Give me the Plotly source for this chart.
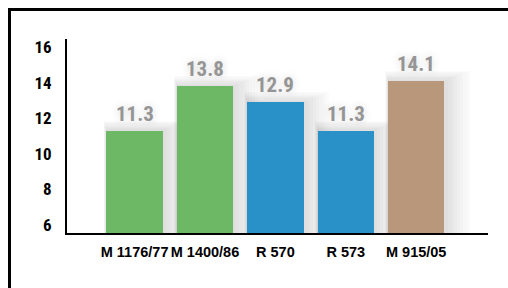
import plotly.graph_objects as go

categories = ["M 1176/77", "M 1400/86", "R 570", "R 573", "M 915/05"]
values = [11.3, 13.8, 12.9, 11.3, 14.1]
value_labels = ["11.3", "13.8", "12.9", "11.3", "14.1"]
colors = ["#6CB865", "#6CB865", "#2A90C8", "#2A90C8", "#B9977A"]
y_ticks = [6, 8, 10, 12, 14, 16]

W, H = 508, 288
ml, mr, mt, mb = 67, 20, 39, 55
pw, ph = W - ml - mr, H - mt - mb
NARROW = "Liberation Sans Narrow, Arial Narrow, Roboto Condensed, Roboto, sans-serif"

xs = list(range(len(categories)))
fig = go.Figure()

# soft shadow layers behind bars
for k in range(8, 0, -1):
    w = 0.8 + 0.05 * k
    fig.add_trace(go.Bar(
        x=xs, y=[v + 0.07 * k for v in values], width=w,
        offset=-w / 2 + 0.02 * k,
        marker=dict(color="rgba(0,0,0,0.016)", line=dict(width=0)),
        hoverinfo="skip", showlegend=False))

fig.add_trace(go.Bar(
    x=xs, y=values, width=0.8,
    marker=dict(color=colors, line=dict(width=0)),
    showlegend=False))

for i, (v, t) in enumerate(zip(values, value_labels)):
    fig.add_annotation(x=i, y=v, text=t, showarrow=False, yanchor="bottom", yshift=3,
                       font=dict(family=NARROW, size=21, color="#959595", weight="bold",
                                 shadow="0px 0px 8px rgba(0,0,0,0.18)"))

# outer frame (top and left edges visible)
fig.add_shape(type="rect", xref="paper", yref="paper",
              x0=(9.5 - ml) / pw, x1=(W + 10 - ml) / pw,
              y0=-(H + 10 - (H - mb)) / ph, y1=1 + (mt - 9.5) / ph,
              line=dict(color="black", width=3), fillcolor="rgba(0,0,0,0)", layer="below")

fig.update_layout(
    width=W, height=H, margin=dict(l=ml, r=mr, t=mt, b=mb, autoexpand=False),
    paper_bgcolor="white", plot_bgcolor="white",
    barmode="overlay", bargap=0,
    xaxis=dict(range=[-0.96, 5.02], tickvals=xs, ticktext=categories, tickangle=0,
               automargin=False,
               showgrid=False, zeroline=False, showline=True, linecolor="black", linewidth=2,
               ticks="", ticklabelstandoff=5,
               tickfont=dict(family="Liberation Sans, Arial, sans-serif", size=14.5,
                             color="black", weight="bold")),
    yaxis=dict(range=[5.55, 16.45], tickvals=y_ticks, ticktext=[str(t) for t in y_ticks],
               automargin=False,
               showgrid=False, zeroline=False, showline=True, linecolor="black", linewidth=2,
               ticks="", ticklabelstandoff=10,
               tickfont=dict(family=NARROW, size=17, color="black", weight="bold")),
)

fig.write_html("out.html", config={"displayModeBar": False},
               post_script="document.body.style.margin='0px';document.body.style.overflow='hidden';")
